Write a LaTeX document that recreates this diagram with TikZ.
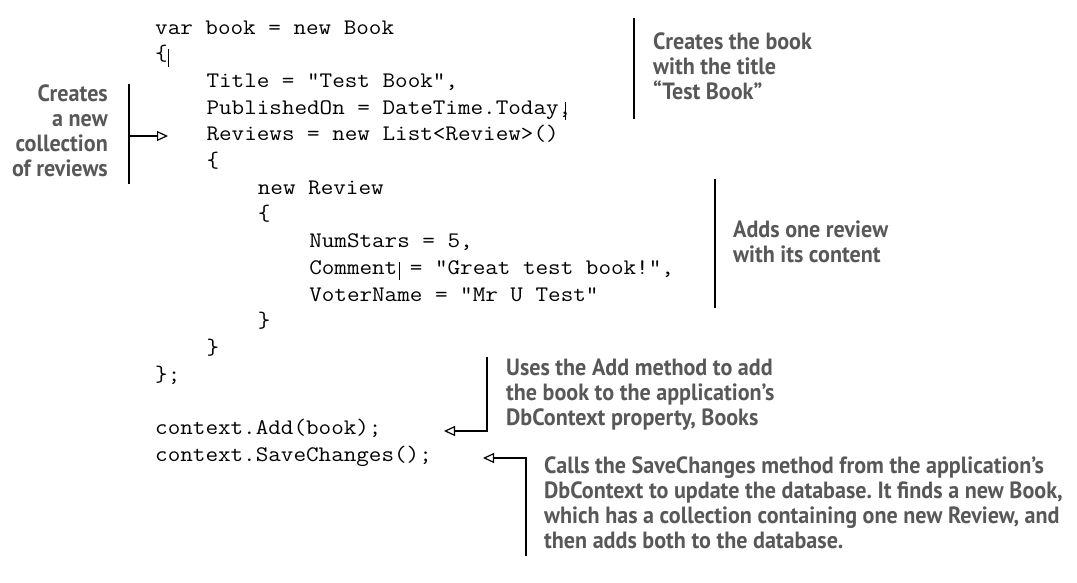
\documentclass[tikz,border=0pt]{standalone}
\usepackage{fontspec}
\setmonofont{Latin Modern Mono}[FakeStretch=1.1]
\newfontfamily\annotfamily{PT Sans}[FakeStretch=0.94]
\usetikzlibrary{arrows.meta}
\definecolor{annotgray}{RGB}{88,88,88}
\newcommand\leftlines[1]{\vtop{\halign{##\hfil\cr#1\crcr}}}
\newcommand\rightlines[1]{\vtop{\halign{\hfil##\cr#1\crcr}}}
\tikzset{
  codeline/.style={anchor=base west, inner sep=0pt, font=\ttfamily\fontsize{22.2}{26.7}\selectfont, text=black},
  annot/.style={inner sep=0pt, font=\annotfamily\bfseries\fontsize{23.5}{25.2}\selectfont\frenchspacing, text=annotgray},
  bracket/.style={draw=black, line width=1.2pt},
  pointer/.style={draw=black, line width=1.2pt, -{Triangle[open, length=11pt, width=10pt]}},
  cursorbar/.style={draw=black, line width=0.8pt},
}
\begin{document}
\begin{tikzpicture}[x=1pt,y=-1pt]
\useasboundingbox (0,0) rectangle (1077,582);
% code
\def\cw{12.84}
\node[codeline] (l1)  at (155,34)              {var book = new Book};
\node[codeline] (l2)  at (155,60.7)            {\{};
\node[codeline] (l3)  at (155+4*\cw,87.4)      {Title = "Test Book",};
\node[codeline] (l4)  at (155+4*\cw,114.1)     {PublishedOn = DateTime.Today,};
\node[codeline] (l5)  at (155+4*\cw,140.8)     {Reviews = new List<Review>()};
\node[codeline] (l6)  at (155+4*\cw,167.5)     {\{};
\node[codeline] (l7)  at (155+8*\cw,194.2)     {new Review};
\node[codeline] (l8)  at (155+8*\cw,220.9)     {\{};
\node[codeline] (l9)  at (155+12*\cw,247.6)    {NumStars = 5,};
\node[codeline] (l10) at (155+12*\cw,274.3)    {Comment = "Great test book!",};
\node[codeline] (l11) at (155+12*\cw,301)      {VoterName = "Mr U Test"};
\node[codeline] (l12) at (155+8*\cw,327.7)     {\}};
\node[codeline] (l13) at (155+4*\cw,354.4)     {\}};
\node[codeline] (l14) at (155,381.1)           {\};};
\node[codeline] (l16) at (155,434.5)           {context.Add(book);};
\node[codeline] (l17) at (155,461.2)           {context.SaveChanges();};
% cursor bars
\draw[cursorbar] (168,49) -- (168,67);
\draw[cursorbar] (565,102) -- (565,120);
\draw[cursorbar] (399,262) -- (399,280);
% annotations
\node[annot, anchor=base east] (aColl) at (108,101)
  {\rightlines{Creates\cr a new\cr collection\cr of reviews}};
\node[annot, anchor=base west] (aBook) at (653,49)
  {\leftlines{Creates the book\cr with the title\cr “Test Book”}};
\node[annot, anchor=base west] (aRev) at (733,237)
  {\leftlines{Adds one review\cr with its content}};
\node[annot, anchor=base west] (aAdd) at (506,375)
  {\leftlines{Uses the Add method to add\cr the book to the application’s\cr DbContext property, Books}};
\node[annot, anchor=base west] (aSave) at (544,473)
  {\leftlines{Calls the SaveChanges method from the application’s\cr DbContext to update the database. It finds a new Book,\cr which has a collection containing one new Review, and\cr then adds both to the database.}};
% brackets and pointers
\coordinate (collTop) at (129,84);
\coordinate (collBot) at (129,184);
\coordinate (collMid) at (129,136);
\coordinate (collTip) at (168,136);
\draw[bracket] (collTop) -- (collBot);
\draw[pointer] (collMid) -- (collTip);
\coordinate (bookTop) at (634,18);
\coordinate (bookBot) at (634,119);
\draw[bracket] (bookTop) -- (bookBot);
\coordinate (revTop) at (715,179);
\coordinate (revBot) at (715,308);
\draw[bracket] (revTop) -- (revBot);
\coordinate (addTop) at (487,357);
\coordinate (addTip) at (444,431);
\draw[pointer] (addTop) |- (addTip);
\coordinate (saveBot) at (526,556);
\coordinate (saveTip) at (483,458);
\draw[pointer] (saveBot) |- (saveTip);
\end{tikzpicture}
\end{document}
